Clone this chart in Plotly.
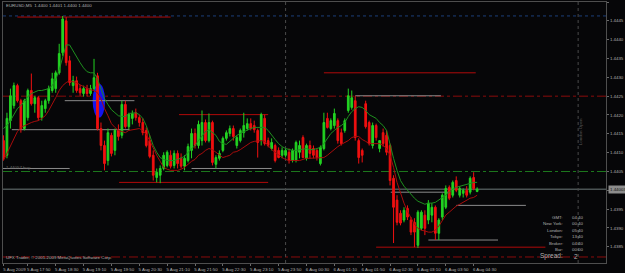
import pandas as pd
import plotly.graph_objects as go

# ---------------- data (EURUSD M5, 5 Aug 2009 17:15 -> 6 Aug 2009 04:35) ----------------
open_ = [
    1.44132, 1.44093, 1.44185, 1.44225, 1.44278, 1.44238, 1.44164, 1.44193, 1.44265, 1.44230,
    1.44246, 1.44193, 1.44217, 1.44238, 1.44265, 1.44270, 1.44312, 1.44365, 1.44450, 1.44344,
    1.44278, 1.44291, 1.44270, 1.44257, 1.44270, 1.44257, 1.44270, 1.44304, 1.44164, 1.44119,
    1.44079, 1.44146, 1.44106, 1.44159, 1.44146, 1.44228, 1.44169, 1.44191, 1.44206, 1.44193,
    1.44180, 1.44159, 1.44132, 1.44093, 1.44034, 1.44040, 1.44058, 1.44066, 1.44093, 1.44066,
    1.44098, 1.44085, 1.44064, 1.44079, 1.44106, 1.44151, 1.44119, 1.44132, 1.44180, 1.44132,
    1.44180, 1.44069, 1.44085, 1.44106, 1.44138, 1.44151, 1.44164, 1.44119, 1.44132, 1.44153,
    1.44164, 1.44177, 1.44172, 1.44159, 1.44132, 1.44191, 1.44132, 1.44111, 1.44119, 1.44106,
    1.44093, 1.44093, 1.44101, 1.44079, 1.44079, 1.44101, 1.44140, 1.44085, 1.44119, 1.44111,
    1.44106, 1.44071, 1.44111, 1.44191, 1.44164, 1.44172, 1.44185, 1.44153, 1.44159, 1.44212,
    1.44220, 1.44238, 1.44132, 1.44106, 1.44230, 1.44180, 1.44119, 1.44172, 1.44111, 1.44153,
    1.44146, 1.44119, 1.44032, 1.43974, 1.43939, 1.43921, 1.43952, 1.43921, 1.43915, 1.43854,
    1.43899, 1.43934, 1.43921, 1.43934, 1.43955, 1.43886, 1.43929, 1.43955, 1.44008, 1.43987,
    1.44026, 1.43987, 1.43992, 1.44000, 1.43995, 1.44034, 1.43997,
]
high_ = [
    1.44146, 1.44206, 1.44270, 1.44286, 1.44283, 1.44243, 1.44243, 1.44270, 1.44310, 1.44251,
    1.44251, 1.44238, 1.44243, 1.44278, 1.44312, 1.44318, 1.44389, 1.44463, 1.44460, 1.44357,
    1.44304, 1.44302, 1.44280, 1.44278, 1.44280, 1.44280, 1.44349, 1.44312, 1.44180, 1.44132,
    1.44164, 1.44153, 1.44164, 1.44175, 1.44238, 1.44238, 1.44206, 1.44212, 1.44217, 1.44201,
    1.44191, 1.44167, 1.44146, 1.44106, 1.44058, 1.44066, 1.44101, 1.44106, 1.44106, 1.44106,
    1.44106, 1.44098, 1.44093, 1.44124, 1.44164, 1.44164, 1.44185, 1.44212, 1.44188, 1.44204,
    1.44185, 1.44093, 1.44106, 1.44143, 1.44159, 1.44172, 1.44172, 1.44146, 1.44164, 1.44206,
    1.44191, 1.44191, 1.44185, 1.44164, 1.44206, 1.44201, 1.44140, 1.44138, 1.44124, 1.44114,
    1.44114, 1.44111, 1.44111, 1.44111, 1.44132, 1.44132, 1.44146, 1.44124, 1.44132, 1.44119,
    1.44111, 1.44119, 1.44206, 1.44206, 1.44191, 1.44217, 1.44191, 1.44164, 1.44191, 1.44270,
    1.44265, 1.44251, 1.44138, 1.44111, 1.44238, 1.44185, 1.44180, 1.44177, 1.44132, 1.44164,
    1.44159, 1.44124, 1.44040, 1.43987, 1.43947, 1.43955, 1.43960, 1.43929, 1.43926, 1.43947,
    1.43947, 1.43947, 1.43974, 1.43966, 1.43960, 1.43926, 1.43992, 1.44013, 1.44013, 1.44026,
    1.44037, 1.44011, 1.44005, 1.44011, 1.44037, 1.44048, 1.44008,
]
low_ = [
    1.44079, 1.44085, 1.44164, 1.44217, 1.44233, 1.44153, 1.44159, 1.44185, 1.44225, 1.44206,
    1.44185, 1.44185, 1.44206, 1.44230, 1.44259, 1.44259, 1.44307, 1.44357, 1.44331, 1.44278,
    1.44259, 1.44259, 1.44251, 1.44249, 1.44249, 1.44251, 1.44265, 1.44159, 1.44106, 1.44053,
    1.44066, 1.44090, 1.44093, 1.44132, 1.44138, 1.44164, 1.44161, 1.44175, 1.44185, 1.44169,
    1.44146, 1.44114, 1.44085, 1.44026, 1.44021, 1.44019, 1.44053, 1.44061, 1.44058, 1.44058,
    1.44058, 1.44058, 1.44053, 1.44074, 1.44085, 1.44111, 1.44111, 1.44119, 1.44127, 1.44127,
    1.44066, 1.44058, 1.44079, 1.44101, 1.44132, 1.44143, 1.44132, 1.44111, 1.44127, 1.44140,
    1.44159, 1.44159, 1.44153, 1.44087, 1.44119, 1.44119, 1.44114, 1.44106, 1.44074, 1.44085,
    1.44085, 1.44087, 1.44071, 1.44074, 1.44074, 1.44085, 1.44085, 1.44079, 1.44085, 1.44085,
    1.44079, 1.44066, 1.44106, 1.44164, 1.44159, 1.44164, 1.44124, 1.44119, 1.44153, 1.44206,
    1.44214, 1.44132, 1.44071, 1.44074, 1.44164, 1.44119, 1.44111, 1.44132, 1.44101, 1.44116,
    1.44093, 1.44013, 1.43860, 1.43907, 1.43907, 1.43915, 1.43921, 1.43881, 1.43849, 1.43847,
    1.43894, 1.43881, 1.43910, 1.43915, 1.43868, 1.43868, 1.43921, 1.43950, 1.43974, 1.43981,
    1.43995, 1.43981, 1.43981, 1.43981, 1.43989, 1.44000, 1.43995,
]
close_ = [
    1.44087, 1.44191, 1.44251, 1.44278, 1.44238, 1.44164, 1.44238, 1.44265, 1.44230, 1.44246,
    1.44193, 1.44225, 1.44238, 1.44270, 1.44296, 1.44312, 1.44363, 1.44455, 1.44339, 1.44286,
    1.44291, 1.44265, 1.44259, 1.44270, 1.44257, 1.44270, 1.44299, 1.44164, 1.44119, 1.44071,
    1.44153, 1.44098, 1.44159, 1.44143, 1.44228, 1.44169, 1.44201, 1.44204, 1.44193, 1.44180,
    1.44153, 1.44119, 1.44090, 1.44040, 1.44048, 1.44058, 1.44093, 1.44101, 1.44064, 1.44098,
    1.44071, 1.44064, 1.44085, 1.44116, 1.44151, 1.44119, 1.44175, 1.44180, 1.44132, 1.44180,
    1.44074, 1.44087, 1.44098, 1.44138, 1.44153, 1.44164, 1.44143, 1.44140, 1.44159, 1.44172,
    1.44177, 1.44164, 1.44161, 1.44127, 1.44201, 1.44124, 1.44119, 1.44127, 1.44079, 1.44087,
    1.44106, 1.44106, 1.44079, 1.44106, 1.44127, 1.44119, 1.44087, 1.44119, 1.44098, 1.44093,
    1.44087, 1.44114, 1.44180, 1.44167, 1.44185, 1.44204, 1.44132, 1.44124, 1.44185, 1.44251,
    1.44246, 1.44140, 1.44087, 1.44093, 1.44169, 1.44124, 1.44172, 1.44140, 1.44132, 1.44124,
    1.44101, 1.44026, 1.43955, 1.43915, 1.43913, 1.43947, 1.43929, 1.43889, 1.43889, 1.43942,
    1.43942, 1.43899, 1.43966, 1.43955, 1.43886, 1.43921, 1.43987, 1.44005, 1.43979, 1.44021,
    1.44000, 1.44005, 1.44000, 1.43987, 1.44032, 1.44005, 1.44003,
]
ma_green = [
    1.44164, 1.44172, 1.44185, 1.44201, 1.44217, 1.44225, 1.44238, 1.44249, 1.44257, 1.44262,
    1.44265, 1.44265, 1.44267, 1.44270, 1.44278, 1.44294, 1.44320, 1.44355, 1.44386, 1.44386,
    1.44370, 1.44352, 1.44339, 1.44325, 1.44315, 1.44312, 1.44312, 1.44296, 1.44267, 1.44243,
    1.44228, 1.44214, 1.44206, 1.44198, 1.44196, 1.44196, 1.44204, 1.44206, 1.44206, 1.44201,
    1.44191, 1.44172, 1.44148, 1.44119, 1.44101, 1.44087, 1.44082, 1.44079, 1.44079, 1.44079,
    1.44082, 1.44085, 1.44090, 1.44101, 1.44111, 1.44119, 1.44132, 1.44143, 1.44156, 1.44161,
    1.44153, 1.44146, 1.44130, 1.44124, 1.44122, 1.44130, 1.44138, 1.44146, 1.44151, 1.44156,
    1.44161, 1.44164, 1.44167, 1.44167, 1.44167, 1.44167, 1.44159, 1.44146, 1.44135, 1.44124,
    1.44116, 1.44111, 1.44108, 1.44106, 1.44106, 1.44108, 1.44111, 1.44111, 1.44108, 1.44108,
    1.44111, 1.44114, 1.44124, 1.44138, 1.44151, 1.44159, 1.44167, 1.44172, 1.44180, 1.44196,
    1.44209, 1.44217, 1.44222, 1.44220, 1.44212, 1.44201, 1.44196, 1.44191, 1.44180, 1.44172,
    1.44159, 1.44119, 1.44085, 1.44053, 1.44026, 1.44011, 1.44000, 1.43989, 1.43979, 1.43971,
    1.43966, 1.43963, 1.43966, 1.43966, 1.43968, 1.43974, 1.43979, 1.43987, 1.43995, 1.44003,
    1.44008, 1.44011, 1.44013, 1.44016, 1.44019, 1.44021, 1.44021,
]
ma_red = [
    1.44079, 1.44098, 1.44119, 1.44138, 1.44156, 1.44167, 1.44172, 1.44177, 1.44180, 1.44183,
    1.44185, 1.44191, 1.44198, 1.44212, 1.44228, 1.44246, 1.44265, 1.44278, 1.44286, 1.44291,
    1.44288, 1.44286, 1.44280, 1.44275, 1.44270, 1.44267, 1.44265, 1.44259, 1.44243, 1.44217,
    1.44198, 1.44177, 1.44167, 1.44159, 1.44156, 1.44153, 1.44159, 1.44161, 1.44164, 1.44164,
    1.44159, 1.44148, 1.44132, 1.44111, 1.44093, 1.44077, 1.44061, 1.44056, 1.44053, 1.44053,
    1.44053, 1.44056, 1.44061, 1.44069, 1.44077, 1.44082, 1.44093, 1.44098, 1.44106, 1.44111,
    1.44108, 1.44101, 1.44093, 1.44087, 1.44090, 1.44093, 1.44101, 1.44103, 1.44108, 1.44114,
    1.44122, 1.44127, 1.44130, 1.44132, 1.44132, 1.44130, 1.44119, 1.44108, 1.44101, 1.44093,
    1.44087, 1.44082, 1.44079, 1.44079, 1.44079, 1.44079, 1.44082, 1.44085, 1.44085, 1.44085,
    1.44085, 1.44085, 1.44087, 1.44093, 1.44101, 1.44108, 1.44116, 1.44122, 1.44127, 1.44132,
    1.44140, 1.44143, 1.44143, 1.44135, 1.44130, 1.44124, 1.44124, 1.44124, 1.44124, 1.44119,
    1.44111, 1.44093, 1.44061, 1.44021, 1.43992, 1.43966, 1.43944, 1.43926, 1.43910, 1.43899,
    1.43894, 1.43892, 1.43889, 1.43889, 1.43894, 1.43905, 1.43921, 1.43934, 1.43942, 1.43950,
    1.43958, 1.43963, 1.43968, 1.43974, 1.43979, 1.43981, 1.43987,
]
start_time = "2009-08-05 17:15"
times = pd.date_range(start_time, periods=len(close_), freq="5min")

# full-width levels
blue_level = 1.44463
red_dash_levels = [1.44250, 1.43823]
green_dash_level = 1.44050
bid_price = close_[-1]
# segment levels (start, end, price)
red_segments = [
    ("2009-08-05 17:35", "2009-08-05 21:15", 1.44460),
    ("2009-08-05 21:27", "2009-08-05 23:35", 1.44201),
    ("2009-08-05 20:01", "2009-08-05 23:35", 1.44021),
    ("2009-08-06 00:55", "2009-08-06 04:33", 1.44312),
    ("2009-08-06 02:10", "2009-08-06 06:13", 1.43849),
]
gray_segments = [
    ("2009-08-05 18:43", "2009-08-05 20:23", 1.44238),
    ("2009-08-05 17:27", "2009-08-05 20:16", 1.44161),
    ("2009-08-05 17:05", "2009-08-05 18:50", 1.44058),
    ("2009-08-05 21:45", "2009-08-05 23:40", 1.44058),
    ("2009-08-06 01:40", "2009-08-06 03:43", 1.44251),
    ("2009-08-06 02:31", "2009-08-06 03:53", 1.43995),
    ("2009-08-06 04:05", "2009-08-06 05:45", 1.43960),
    ("2009-08-06 03:25", "2009-08-06 05:05", 1.43868),
]
session_lines = ["2009-08-06 00:00", "2009-08-06 07:00"]
london_open_time = "2009-08-06 07:00"
ellipse_time = ("2009-08-05 19:23", "2009-08-05 19:41")
ellipse_price = (1.44193, 1.44283)

x_tick_vals = ["2009-08-05 17:15", "2009-08-05 17:50", "2009-08-05 18:30", "2009-08-05 19:10",
               "2009-08-05 19:50", "2009-08-05 20:30", "2009-08-05 21:10", "2009-08-05 21:50",
               "2009-08-05 22:30", "2009-08-05 23:10", "2009-08-05 23:50", "2009-08-06 00:30",
               "2009-08-06 01:10", "2009-08-06 01:50", "2009-08-06 02:30", "2009-08-06 03:10",
               "2009-08-06 03:50", "2009-08-06 04:30"]
x_tick_text = ["5 Aug 2009", "5 Aug 17:50", "5 Aug 18:30", "5 Aug 19:10", "5 Aug 19:50",
               "5 Aug 20:30", "5 Aug 21:10", "5 Aug 21:50", "5 Aug 22:30", "5 Aug 23:10",
               "5 Aug 23:50", "6 Aug 00:30", "6 Aug 01:10", "6 Aug 01:50", "6 Aug 02:30",
               "6 Aug 03:10", "6 Aug 03:50", "6 Aug 04:30"]
y_tick_vals = [1.4385, 1.4390, 1.4395, 1.4400, 1.4405, 1.4410, 1.4415, 1.4420,
               1.4425, 1.4430, 1.4435, 1.4440, 1.4445, 1.4450]
y_tick_text = ["1.4385", "1.4390", "1.4395", "", "1.4405", "1.4410", "1.4415", "1.4420",
               "1.4425", "1.4430", "1.4435", "1.4440", "1.4445", "1.4450"]

info_labels = ["GMT:", "New York:", "London:", "Tokyo:", "Broker:", "Bar:"]
info_values = ["04:40", "00:40", "05:40", "13:40", "04:40", "00:00"]
spread_value = "2"

# ---------------- layout helpers ----------------
W, H = 625, 273
ML, MR, MT, MB = 3, 16, 1, 10
PW, PH = W - ML - MR, H - MT - MB


def pxx(x):
    return (x - ML) / PW


def pxy(y):
    return 1 - (y - MT) / PH


BG = "#060608"
FONT = "Liberation Sans"
TXT = "#b0b0b0"
FS = 4.4

fig = go.Figure()

fig.add_trace(go.Candlestick(
    x=times, open=open_, high=high_, low=low_, close=close_,
    increasing=dict(line=dict(color="#22d322", width=1), fillcolor="#22d322"),
    decreasing=dict(line=dict(color="#f01010", width=1), fillcolor="#f01010"),
    whiskerwidth=0, showlegend=False, hoverinfo="skip",
))
fig.add_trace(go.Scatter(x=times, y=ma_green, mode="lines",
                         line=dict(color="#1e8f1e", width=1), showlegend=False, hoverinfo="skip"))
fig.add_trace(go.Scatter(x=times, y=ma_red, mode="lines",
                         line=dict(color="#a80c0c", width=1), showlegend=False, hoverinfo="skip"))

shapes = []
shapes.append(dict(type="circle", xref="x", yref="y", x0=ellipse_time[0], x1=ellipse_time[1],
                   y0=ellipse_price[0], y1=ellipse_price[1], fillcolor="#1414f0",
                   line=dict(width=0), layer="below"))
shapes.append(dict(type="line", xref="paper", yref="y", x0=0, x1=1, y0=blue_level, y1=blue_level,
                   line=dict(color="#1c3f7a", width=1, dash="dot"), layer="below"))
for lv in red_dash_levels:
    shapes.append(dict(type="line", xref="paper", yref="y", x0=0, x1=1, y0=lv, y1=lv,
                       line=dict(color="#8a0c0c", width=1, dash="dashdot"), layer="below"))
shapes.append(dict(type="line", xref="paper", yref="y", x0=0, x1=1, y0=green_dash_level,
                   y1=green_dash_level, line=dict(color="#1d7a1d", width=1, dash="dashdot"),
                   layer="below"))
shapes.append(dict(type="line", xref="paper", yref="y", x0=0, x1=1, y0=bid_price, y1=bid_price,
                   line=dict(color="#6e7a7a", width=1), layer="below"))
for t in session_lines:
    shapes.append(dict(type="line", xref="x", yref="paper", x0=t, x1=t, y0=0, y1=1,
                       line=dict(color="#4a4a4a", width=1, dash="dot"), layer="below"))
for s, e, p in red_segments:
    shapes.append(dict(type="line", xref="x", yref="y", x0=s, x1=e, y0=p, y1=p,
                       line=dict(color="#b00a0a", width=1), layer="below"))
for s, e, p in gray_segments:
    shapes.append(dict(type="line", xref="x", yref="y", x0=s, x1=e, y0=p, y1=p,
                       line=dict(color="#8a8a8a", width=1), layer="below"))

ann = []
ann.append(dict(text=f"EURUSD,M5  {open_[-1]:.4f} {high_[-1]:.4f} {low_[-1]:.4f} {close_[-1]:.4f}",
                xref="paper", yref="paper", x=pxx(4), y=pxy(5), xanchor="left", yanchor="middle",
                showarrow=False, font=dict(family=FONT, size=FS, color=TXT)))
ann.append(dict(text="UFX Trader, © 2001-2009 MetaQuotes Software Corp.",
                xref="paper", yref="paper", x=pxx(4), y=pxy(257), xanchor="left", yanchor="middle",
                showarrow=False, font=dict(family=FONT, size=FS, color=TXT)))
ann.append(dict(text="1.44057 buy", xref="paper", yref="paper", x=pxx(4), y=pxy(167),
                xanchor="left", yanchor="middle", showarrow=False,
                font=dict(family=FONT, size=FS, color="#6a6a6a")))
ann.append(dict(text="London Open", xref="x", yref="paper", x=london_open_time, y=pxy(131),
                xshift=2.5, xanchor="center", yanchor="middle", textangle=-90, showarrow=False,
                font=dict(family=FONT, size=FS, color="#5a5a5a")))
row_y = [217, 223.5, 230, 236.5, 243, 249.5]
for lab, val, ry in zip(info_labels, info_values, row_y):
    ann.append(dict(text=lab, xref="paper", yref="paper", x=pxx(568), y=pxy(ry), xanchor="right",
                    yanchor="middle", showarrow=False, font=dict(family=FONT, size=FS, color=TXT)))
    ann.append(dict(text=val, xref="paper", yref="paper", x=pxx(573), y=pxy(ry), xanchor="left",
                    yanchor="middle", showarrow=False, font=dict(family=FONT, size=FS, color=TXT)))
ann.append(dict(text="Spread:", xref="paper", yref="paper", x=pxx(568), y=pxy(256), xanchor="right",
                yanchor="middle", showarrow=False, font=dict(family=FONT, size=6.5, color=TXT)))
ann.append(dict(text=spread_value, xref="paper", yref="paper", x=pxx(575), y=pxy(256),
                xanchor="left", yanchor="middle", showarrow=False,
                font=dict(family=FONT, size=6.5, color=TXT)))
ann.append(dict(text=f"{bid_price:.5f}", xref="paper", yref="y", x=1.003, y=bid_price,
                xanchor="left", yanchor="middle", showarrow=False, bgcolor="#8c8c8c",
                font=dict(family=FONT, size=FS, color="#101010"), borderpad=1))

fig.update_layout(
    width=W, height=H, margin=dict(l=ML, r=MR, t=MT, b=MB),
    paper_bgcolor=BG, plot_bgcolor=BG, showlegend=False,
    shapes=shapes, annotations=ann,
    xaxis=dict(type="date", range=["2009-08-05 17:14:20", "2009-08-06 07:40"],
               rangeslider=dict(visible=False), showgrid=False, zeroline=False,
               tickvals=x_tick_vals, ticktext=x_tick_text, tickangle=0,
               tickfont=dict(family=FONT, size=FS, color=TXT), ticklabelshift=11,
               ticks="outside", ticklen=2, tickcolor="#6a6a6a",
               showline=True, linecolor="#4e4e4e", linewidth=1, mirror=True),
    yaxis=dict(side="right", range=[1.43807, 1.44500], showgrid=False, zeroline=False,
               tickvals=y_tick_vals, ticktext=y_tick_text,
               tickfont=dict(family=FONT, size=FS, color=TXT),
               ticks="outside", ticklen=2, tickcolor="#6a6a6a",
               showline=True, linecolor="#4e4e4e", linewidth=1, mirror=True),
)

fig.write_html("out.html")
